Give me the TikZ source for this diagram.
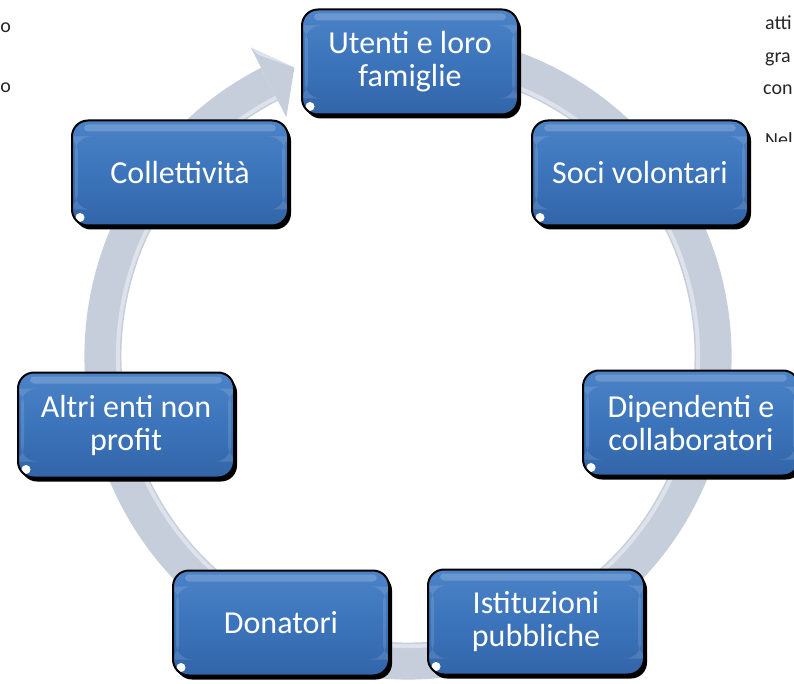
\documentclass[tikz,border=0pt]{standalone}
\usepackage{fontspec}
\newfontfamily\carlito{Carlito}
\usetikzlibrary{shadows,calc}
\definecolor{boxtop}{HTML}{4C83C7}
\definecolor{boxmid}{HTML}{3C74BB}
\definecolor{boxbot}{HTML}{3265A8}
\definecolor{ringcol}{HTML}{C6CDDB}
\definecolor{ringlight}{HTML}{DDE2EB}
\tikzset{
  box/.style={rounded corners=16pt, minimum width=216pt, minimum height=105pt,
    draw=black, line width=2pt, top color=boxtop, bottom color=boxbot, middle color=boxmid,
    text=white, font={\carlito\fontsize{32}{33}\selectfont}, align=center, inner sep=0pt,
    drop shadow={shadow xshift=3pt, shadow yshift=-4pt, fill=black, opacity=1},
    path picture={
      \fill[white, opacity=0.18, rounded corners=4pt]
        ([xshift=12pt,yshift=-4pt]path picture bounding box.north west) rectangle
        ([xshift=-12pt,yshift=-11pt]path picture bounding box.north east);
      \fill[white, opacity=0.12]
        ([xshift=3pt,yshift=-16pt]path picture bounding box.north west) rectangle
        ([xshift=6pt,yshift=16pt]path picture bounding box.south west);
      \fill[white, opacity=0.12]
        ([xshift=-6pt,yshift=-16pt]path picture bounding box.north east) rectangle
        ([xshift=-3pt,yshift=16pt]path picture bounding box.south east);
      \fill[white] ([xshift=8pt,yshift=8pt]path picture bounding box.south west) circle (4.5pt);
    }},
  frag/.style={font={\carlito\fontsize{20}{24}\selectfont}, inner sep=0pt, text=black!85}
}
\begin{document}
\begin{tikzpicture}[x=1pt,y=-1pt]
\useasboundingbox (0,0) rectangle (794,684);
\fill[white] (0,0) rectangle (794,684);
% page text around the diagram
\node[frag, anchor=base east] (fo1) at (11,33) {o};
\node[frag, anchor=base east] (fo2) at (11,93) {o};
\node[frag, anchor=base west] (fa) at (765,30) {atti};
\node[frag, anchor=base west] (fg) at (765,63) {gra};
\node[frag, anchor=base west] (fc) at (763,95) {con};
\begin{scope}
  \clip (740,100) rectangle (794,142);
  \node[frag, anchor=base west] (fn) at (765,147) {Nel};
\end{scope}
% ring
\coordinate (c) at (408,356);
\draw[ringcol, line width=37pt] (c) ++(285:305) arc[start angle=285, end angle=603, radius=305];
\draw[ringlight, line width=4pt] (c) ++(285:290) arc[start angle=285, end angle=603, radius=290];
\fill[ringcol] ($(c)+(243:346)$) -- ($(c)+(243:268)$) -- ($(c)+(248.5:310)$) -- cycle;
\fill[ringlight] ($(c)+(243:346)$) -- ($(c)+(243.6:336)$) -- ($(c)+(248.5:310)$) -- cycle;
% boxes
\node[box] (ut) at (410,62) {Utenti e loro\\famiglie};
\node[box] (so) at (640,173) {Soci volontari};
\node[box] (di) at (691,423) {Dipendenti e\\collaboratori};
\node[box] (is) at (536,622) {Istituzioni\\pubbliche};
\node[box] (do) at (281,623) {Donatori};
\node[box] (al) at (126,425) {Altri enti non\\profit};
\node[box] (co) at (180,173) {Collettività};
\end{tikzpicture}
\end{document}
